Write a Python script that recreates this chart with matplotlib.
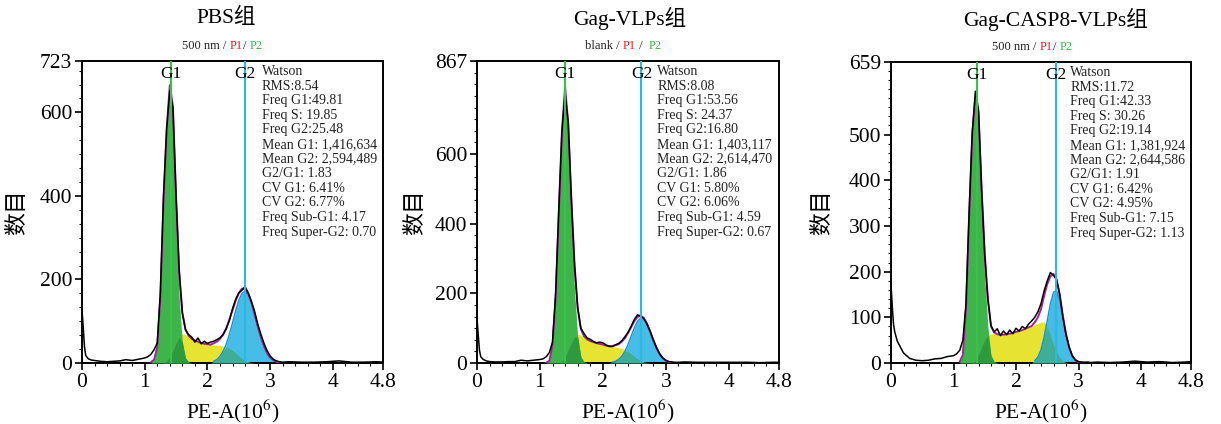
import numpy as np
import matplotlib
matplotlib.use("Agg")
import matplotlib.pyplot as plt
from matplotlib.ticker import MultipleLocator

plt.rcParams["font.family"] = ["Liberation Serif", "Noto Sans CJK SC"]
plt.rcParams["mathtext.fontset"] = "stix"

# shared channel grid (PE-A, 10^6)
x_low = [0.0, 0.02, 0.04, 0.06, 0.1, 0.15, 0.2, 0.3, 0.4, 0.5, 0.6, 0.7, 0.8, 0.9, 1.0, 1.05]
x_mid = [1.10, 1.15, 1.20, 1.25, 1.30, 1.35, 1.40, 1.45, 1.50, 1.55, 1.60, 1.65, 1.70, 1.75,
         1.80, 1.85, 1.90, 1.95, 2.00, 2.05, 2.10, 2.15, 2.20, 2.25, 2.30, 2.35, 2.40, 2.45,
         2.50, 2.55, 2.60, 2.65, 2.70, 2.75, 2.80, 2.85, 2.90, 2.95, 3.00, 3.05, 3.10, 3.15, 3.20]
x_high = [3.3, 3.5, 3.7, 3.9, 4.1, 4.3, 4.5, 4.7, 4.8]

titles = ["PBS组", "Gag-VLPs组", "Gag-CASP8-VLPs组"]
subtitles = [[("500 nm / ", "#222222"), ("P1", "#e8201f"), ("/ ", "#222222"), ("P2", "#3cb44a")],
             [("blank / ", "#222222"), ("P1", "#e8201f"), (" /  ", "#222222"), ("P2", "#3cb44a")],
             [("500 nm / ", "#222222"), ("P1", "#e8201f"), ("/ ", "#222222"), ("P2", "#3cb44a")]]
y_max = [723, 867, 659]
y_ticks = [[0, 200, 400, 600, 723], [0, 200, 400, 600, 867], [0, 100, 200, 300, 400, 500, 659]]
y_minor = [200 / 6, 200 / 6, 20]
mean_g1 = [1.416634, 1.403117, 1.381924]
mean_g2 = [2.594489, 2.614470, 2.644586]

stats = [
    ["Watson", "RMS:8.54", "Freq G1:49.81", "Freq S: 19.85", "Freq G2:25.48",
     "Mean G1: 1,416,634", "Mean G2: 2,594,489", "G2/G1: 1.83", "CV G1: 6.41%",
     "CV G2: 6.77%", "Freq Sub-G1: 4.17", "Freq Super-G2: 0.70"],
    ["Watson", "RMS:8.08", "Freq G1:53.56", "Freq S: 24.37", "Freq G2:16.80",
     "Mean G1: 1,403,117", "Mean G2: 2,614,470", "G2/G1: 1.86", "CV G1: 5.80%",
     "CV G2: 6.06%", "Freq Sub-G1: 4.59", "Freq Super-G2: 0.67"],
    ["Watson", "RMS:11.72", "Freq G1:42.33", "Freq S: 30.26", "Freq G2:19.14",
     "Mean G1: 1,381,924", "Mean G2: 2,644,586", "G2/G1: 1.91", "CV G1: 6.42%",
     "CV G2: 4.95%", "Freq Sub-G1: 7.15", "Freq Super-G2: 1.13"],
]

# measured counts (black histogram), on x_low + x_mid + x_high
counts_pbs = [127, 85, 38, 18, 10, 7, 6, 4, 3, 4, 5, 8, 6, 9, 12, 15,
              21, 32, 48, 170, 400, 560, 652, 610, 400, 220, 120, 80, 68, 62,
              50, 60, 46, 52, 47, 50, 52, 56, 60, 68, 82, 102, 130, 152,
              168, 174, 183, 168, 148, 125, 95, 70, 48, 30, 17, 9, 5, 3, 2,
              3, 2, 2, 3, 5, 2, 2, 3, 2]
counts_gag = [128, 80, 35, 18, 10, 6, 4, 3, 3, 4, 4, 8, 6, 8, 10, 12,
              18, 30, 60, 200, 440, 665, 775, 690, 470, 280, 160, 100, 85, 72,
              68, 62, 58, 60, 58, 52, 48, 47, 52, 56, 64, 75, 88, 105,
              125, 138, 135, 128, 112, 92, 68, 46, 28, 15, 8, 4, 3, 2, 2,
              3, 2, 2, 2, 2, 2, 1, 2, 2]
counts_casp = [170, 125, 85, 68, 48, 35, 22, 10, 6, 5, 6, 9, 10, 14, 16, 20,
               28, 50, 130, 330, 505, 595, 555, 380, 235, 140, 82, 68, 75, 60,
               70, 62, 72, 64, 76, 70, 80, 75, 85, 92, 100, 112, 130, 158,
               180, 198, 192, 182, 150, 100, 62, 35, 16, 7, 3, 2, 2, 2, 1,
               2, 1, 2, 4, 2, 3, 1, 2, 3]

# Watson model components, on x_mid
g1_pbs = [2, 8, 38, 160, 390, 555, 650, 585, 350, 155, 50, 12, 2] + [0] * 30
s_pbs = [0] * 5 + [5, 15, 30, 48, 62, 70, 68, 63, 58, 54, 51, 48, 46, 45, 44, 43, 43, 42,
                   40, 38, 35, 30, 24, 17, 11, 6, 3, 1] + [0] * 10
g2_pbs = [0] * 20 + [4, 8, 16, 28, 45, 69, 96, 125, 150, 167, 172, 164, 145, 118, 89, 63,
                     41, 24, 13, 7, 3, 1, 0]

g1_gag = [1, 6, 50, 190, 430, 660, 775, 650, 410, 210, 75, 18, 3] + [0] * 30
s_gag = [0] * 5 + [5, 18, 38, 58, 75, 82, 80, 74, 68, 63, 60, 57, 55, 53, 50, 48, 47, 46,
                   44, 42, 38, 33, 26, 19, 12, 7, 3, 1] + [0] * 10
g2_gag = [0] * 21 + [2, 5, 10, 19, 33, 53, 77, 101, 120, 129, 127, 113, 91, 66, 44, 26,
                     14, 7, 3, 1, 0, 0]

g1_casp = [3, 18, 120, 320, 500, 575, 530, 345, 190, 80, 16, 3, 0] + [0] * 30
s_casp = [0] * 5 + [5, 18, 35, 50, 60, 64, 64, 63, 62, 62, 63, 64, 66, 68, 70, 72, 75, 78,
                    81, 84, 87, 89, 90, 80, 60, 40, 24, 12, 4, 1] + [0] * 8
g2_casp = [0] * 24 + [5, 13, 29, 57, 93, 130, 155, 158, 137, 100, 63, 34, 16, 6, 2, 1,
                      0, 0, 0]

counts = [counts_pbs, counts_gag, counts_casp]
g1s = [g1_pbs, g1_gag, g1_casp]
ss = [s_pbs, s_gag, s_casp]
g2s = [g2_pbs, g2_gag, g2_casp]

fig = plt.figure(figsize=(12.21, 4.24), dpi=100)
W, H = 1221, 424
boxes = [(82, 61, 301, 302), (477, 61, 302, 302), (891, 62, 300, 301)]
title_x = [0.478, 0.507, 0.547]
sub_x = [0.332, 0.358, 0.337]
ylab_px = [17, 415, 822]

x_all = np.array(x_low + x_mid + x_high)
xm = np.array(x_mid)

for i in range(3):
    l, t, w, h = boxes[i]
    ax = fig.add_axes([l / W, (H - t - h) / H, w / W, h / H])
    g1 = np.array(g1s[i], float)
    s = np.array(ss[i], float)
    g2 = np.array(g2s[i], float)

    # model fills, overlaps in darker tones
    ax.fill_between(xm, 0, s, color="#e6e332", lw=0, zorder=1)
    ax.fill_between(xm, 0, g2, color="#45bde6", lw=0, zorder=2)
    ax.fill_between(xm, 0, np.minimum(s, g2), color="#3fae96", lw=0, zorder=3)
    ax.fill_between(xm, 0, g1, color="#3db54a", lw=0, zorder=4)
    ax.fill_between(xm, 0, np.minimum(g1, s), color="#2e9a3e", lw=0, zorder=5)
    ax.plot(xm[g2 > 0], g2[g2 > 0], color="#1c8fcf", lw=1.0, zorder=6)

    fit = g1 + s + g2
    m = fit > 0
    ax.plot(xm[m], fit[m], color="#a3229a", lw=1.4, zorder=7)
    ax.plot(x_all, counts[i], color="black", lw=1.1, zorder=8)

    ax.axvline(mean_g1[i], color="#3cc04a", lw=1.5, zorder=9)
    ax.axvline(mean_g2[i], color="#2bb8e2", lw=1.5, zorder=9)
    ax.text(mean_g1[i], 0.985, "G1", transform=ax.get_xaxis_transform(),
            ha="center", va="top", fontsize=12.5, zorder=10)
    ax.text(mean_g2[i], 0.985, "G2", transform=ax.get_xaxis_transform(),
            ha="center", va="top", fontsize=12.5, zorder=10)
    ax.text(0.597, 0.987, "\n".join(stats[i]), transform=ax.transAxes,
            ha="left", va="top", fontsize=10, linespacing=1.16, color="#222222")

    ax.set_xlim(0, 4.8)
    ax.set_ylim(0, y_max[i])
    ax.set_xticks([0, 1, 2, 3, 4, 4.8])
    ax.set_xticklabels(["0", "1", "2", "3", "4", "4.8"])
    ax.set_yticks(y_ticks[i])
    ax.xaxis.set_minor_locator(MultipleLocator(0.2))
    ax.yaxis.set_minor_locator(MultipleLocator(y_minor[i]))
    ax.tick_params(which="major", direction="out", length=5, width=1.2, labelsize=15.5, pad=2)
    ax.tick_params(which="minor", direction="out", length=2.5, width=0.8)
    for sp in ax.spines.values():
        sp.set_linewidth(1.4)

    ax.set_xlabel("PE-A(10$^{6}$)", fontsize=15.5, labelpad=4)
    fig.text(ylab_px[i] / W, (H - 212) / H, "数目", rotation=90, fontsize=16.5,
             family="Noto Sans CJK SC", ha="center", va="center")
    ax.text(title_x[i], 1.142, titles[i], transform=ax.transAxes,
            ha="center", va="center", fontsize=15.5)

    prev = None
    for k, (txt, col) in enumerate(subtitles[i]):
        if prev is None:
            prev = ax.text(sub_x[i], 1.05, txt, transform=ax.transAxes, ha="left",
                           va="center", fontsize=9, color=col)
        else:
            prev = ax.annotate(txt, xy=(1, 0), xycoords=prev, ha="left", va="bottom",
                               fontsize=9, color=col)

fig.savefig("out.png", dpi=100)
